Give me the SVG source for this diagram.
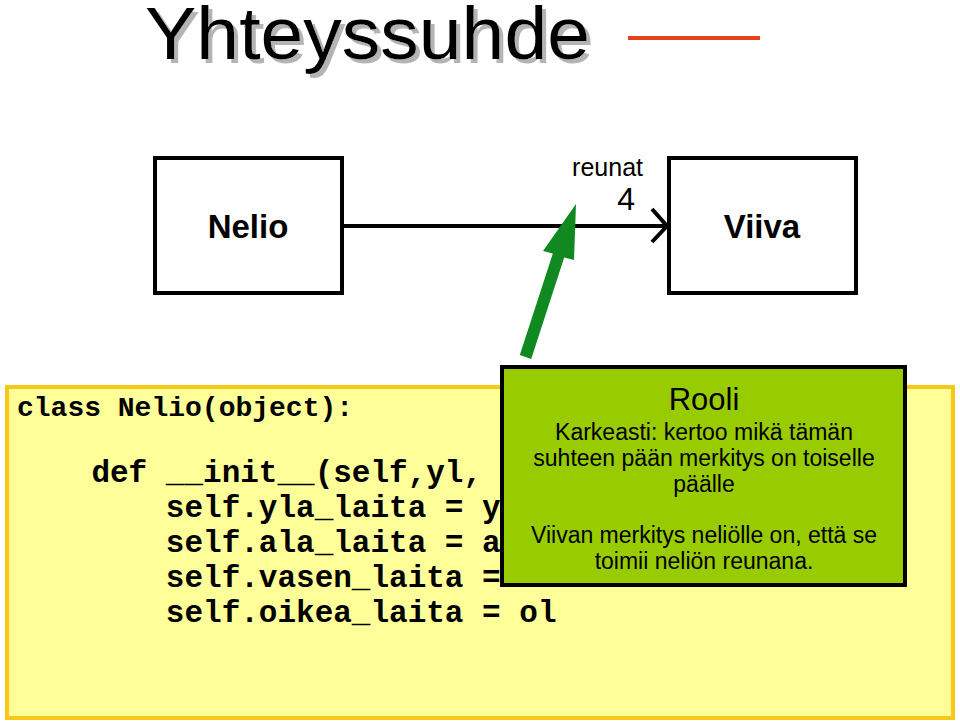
<svg xmlns="http://www.w3.org/2000/svg" width="960" height="726" viewBox="0 0 960 726">
  <defs>
    <style>
      .title { font-family: "Liberation Sans", Arial, sans-serif; font-size: 74px; }
      .node rect { fill: #ffffff; stroke: #000000; stroke-width: 4; }
      .node text { font-family: "Liberation Sans", Arial, sans-serif; font-size: 33px; font-weight: bold; text-anchor: middle; fill: #000; }
      .lbl { font-family: "Liberation Sans", Arial, sans-serif; fill: #000; }
      .code { font-family: "Liberation Mono", "Courier New", monospace; font-weight: bold; fill: #000; white-space: pre; }
      .note { font-family: "Liberation Sans", Arial, sans-serif; text-anchor: middle; fill: #000; }
    </style>
    <filter id="shadow" x="-5%" y="-20%" width="115%" height="150%">
      <feOffset in="SourceAlpha" dx="4" dy="4" result="off"/>
      <feFlood flood-color="#b4b4b4"/>
      <feComposite in2="off" operator="in" result="sh"/>
      <feMerge>
        <feMergeNode in="sh"/>
        <feMergeNode in="SourceGraphic"/>
      </feMerge>
    </filter>
  </defs>

  <rect width="960" height="726" fill="#ffffff"/>

  <!-- Title -->
  <g id="title">
    <text class="title" x="145" y="59" fill="#000000" filter="url(#shadow)" textLength="445" lengthAdjust="spacingAndGlyphs">Yhteyssuhde</text>
    <line x1="628" y1="38" x2="760" y2="38" stroke="#e8401c" stroke-width="4"/>
  </g>

  <!-- Code box -->
  <g id="code">
    <rect x="7" y="387" width="946" height="331" fill="#ffff99" stroke="#f8c817" stroke-width="4"/>
    <text class="code" x="17" y="416" style="font-size:28px">class Nelio(object):</text>
    <text class="code" x="17" y="482" style="font-size:31px" xml:space="preserve">    def __init__(self,yl,</text>
    <text class="code" x="17" y="517" style="font-size:31px" xml:space="preserve">        self.yla_laita = y</text>
    <text class="code" x="17" y="552" style="font-size:31px" xml:space="preserve">        self.ala_laita = a</text>
    <text class="code" x="17" y="587" style="font-size:31px" xml:space="preserve">        self.vasen_laita =</text>
    <text class="code" x="17" y="622" style="font-size:31px" xml:space="preserve">        self.oikea_laita = ol</text>
  </g>

  <!-- Nodes -->
  <g id="nelio" class="node">
    <rect x="155" y="158" width="187" height="135"/>
    <text x="248" y="238">Nelio</text>
  </g>
  <g id="viiva" class="node">
    <rect x="669" y="158" width="187" height="135"/>
    <text x="762" y="238">Viiva</text>
  </g>

  <!-- Connectors -->
  <g id="connectors">
    <line x1="342" y1="226" x2="667" y2="226" stroke="#000" stroke-width="4"/>
    <polyline points="652,209 667,226 652,242" fill="none" stroke="#000" stroke-width="4"/>
    <text class="lbl" x="643" y="176" style="font-size:25px" text-anchor="end">reunat</text>
    <text class="lbl" x="635" y="210" style="font-size:32px" text-anchor="end">4</text>
  </g>

  <!-- Green pointer arrow -->
  <g id="pointer">
    <polygon points="519.8,355.1 531.2,358.9 564.2,257.4 574,260 576,204 543,251 552.8,253.6" fill="#108a20"/>
  </g>

  <!-- Note box -->
  <g id="rooli">
    <rect x="502" y="367" width="403" height="218" fill="#99cc00" stroke="#000000" stroke-width="4"/>
    <text class="note" x="704" y="410" style="font-size:31px">Rooli</text>
    <text class="note" x="704" y="440" style="font-size:23px">Karkeasti: kertoo mikä tämän</text>
    <text class="note" x="704" y="466" style="font-size:23px">suhteen pään merkitys on toiselle</text>
    <text class="note" x="704" y="492" style="font-size:23px">päälle</text>
    <text class="note" x="704" y="543" style="font-size:23px">Viivan merkitys neliölle on, että se</text>
    <text class="note" x="704" y="569" style="font-size:23px">toimii neliön reunana.</text>
  </g>
</svg>
